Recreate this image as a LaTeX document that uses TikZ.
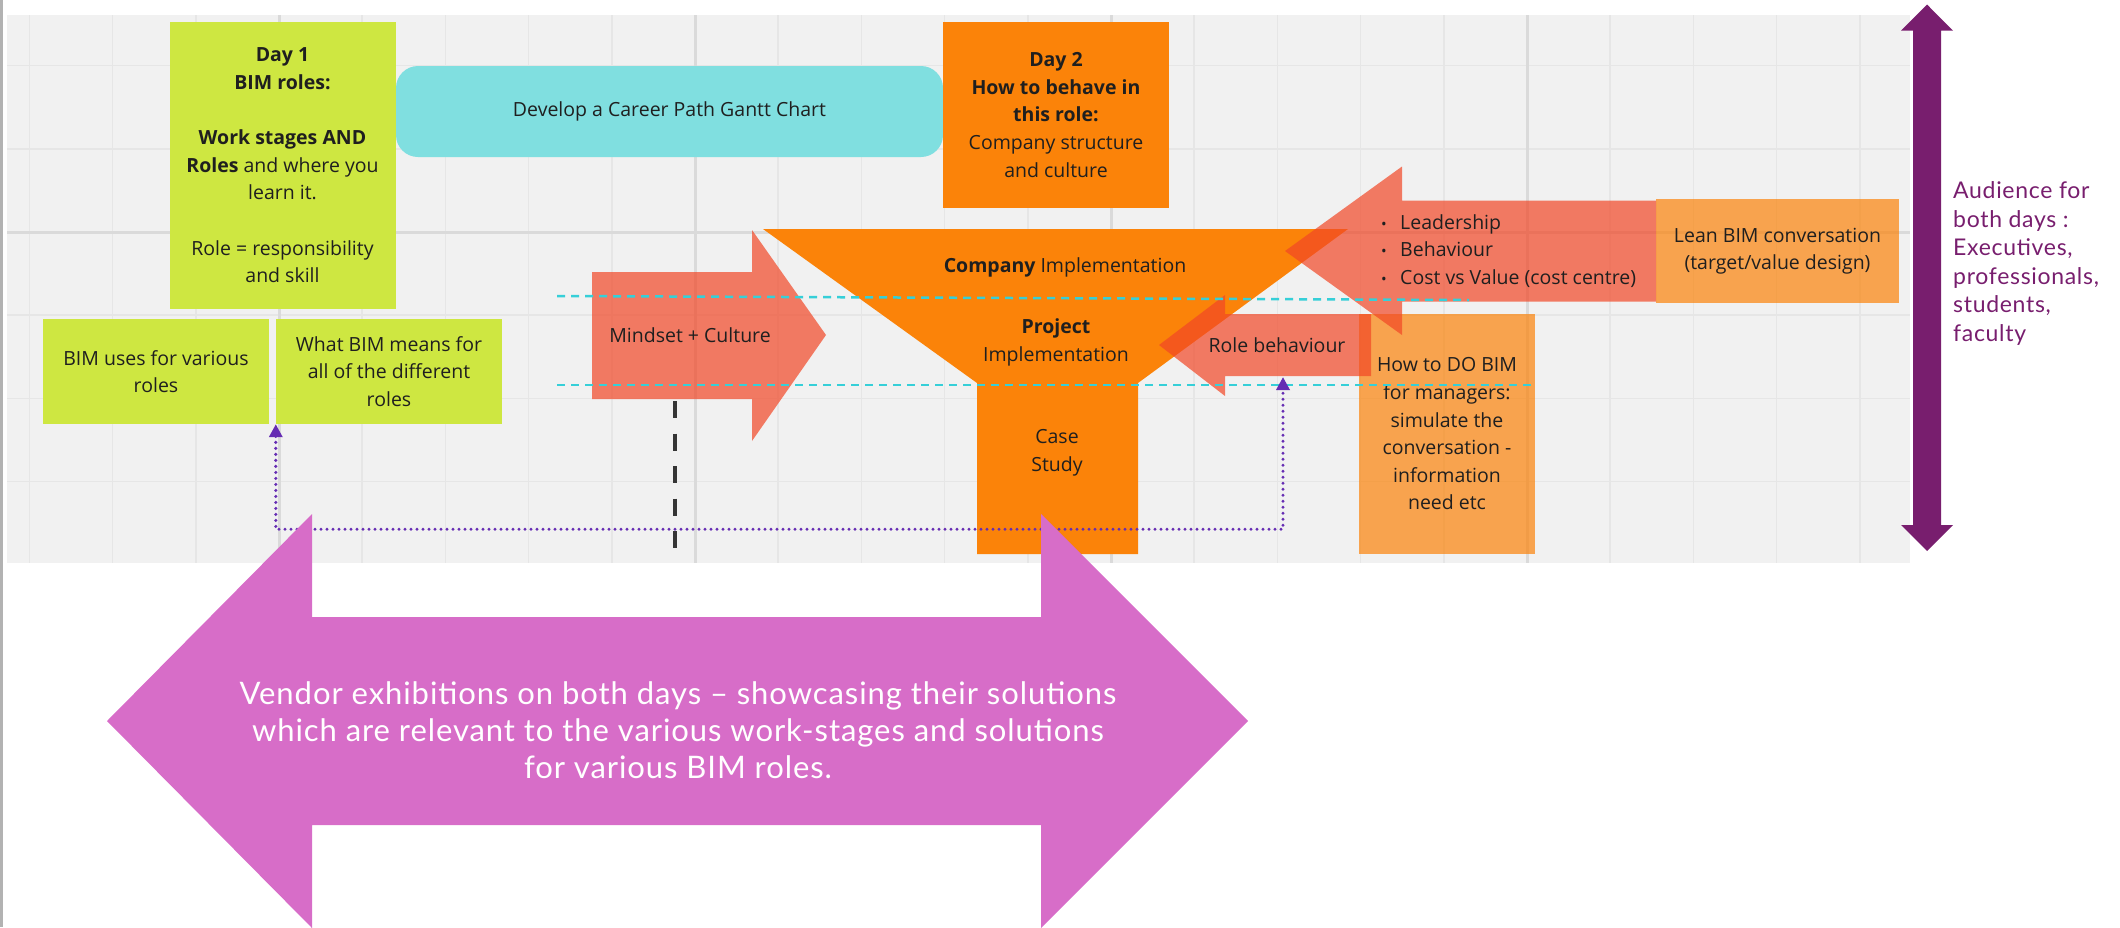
\documentclass[tikz,border=0pt]{standalone}
\usepackage{fontspec}
\setmainfont{Open Sans}
\newfontfamily\latofont[LetterSpace=3]{Lato}
\usetikzlibrary{arrows.meta, positioning}

\definecolor{boardgray}{HTML}{F1F1F1}
\definecolor{gridminor}{HTML}{E6E6E6}
\definecolor{gridmajor}{HTML}{DADADA}
\definecolor{limecard}{HTML}{CEE741}
\definecolor{ganttcyan}{HTML}{80DFE0}
\definecolor{mirorange}{HTML}{FB8309}
\definecolor{mirored}{HTML}{F24726}
\definecolor{guidecyan}{HTML}{36CFD8}
\definecolor{linkviolet}{HTML}{652CB3}
\definecolor{audpurple}{HTML}{781E6E}
\definecolor{vendorpink}{HTML}{D76DC8}
\definecolor{ink}{HTML}{1F1F1F}

\newcommand\boxfont{\fontsize{19.5}{27.6}\selectfont}
\newcommand\topicdot{\makebox[19pt][l]{\fontsize{15}{15}\selectfont\textbullet}}

\tikzset{
  inktext/.style={text=ink, font=\boxfont, align=center, inner sep=0pt},
  card/.style={inktext, fill=limecard, minimum width=226pt},
  daybox/.style={inktext, fill=mirorange, minimum width=226pt},
  softbox/.style={inktext, fill=mirorange, fill opacity=0.7, text opacity=1},
  redarrow/.style={fill=mirored, fill opacity=0.7},
  guide/.style={guidecyan, line width=2.5pt, dash pattern=on 8pt off 6pt},
  link/.style={linkviolet, line width=3.4pt, line cap=round, dash pattern=on 0pt off 6pt,
    {Triangle[length=13pt,width=13pt]}-{Triangle[length=13pt,width=13pt]}}
}

\begin{document}
\begin{tikzpicture}[x=1pt, y=-1pt]
  \useasboundingbox (0,0) rectangle (2120,927);
  % board and grid
  \fill[boardgray] (7,15) rectangle (1910,563);
  \foreach \gx in {0,...,22}
    \draw[gridminor, line width=1.5pt] (29.4+83.2*\gx,15) -- (29.4+83.2*\gx,563);
  \foreach \gy in {0,...,5}
    \draw[gridminor, line width=1.5pt] (7,65.6+83.2*\gy) -- (1910,65.6+83.2*\gy);
  \foreach \gx in {279,695,1111,1527}
    \draw[gridmajor, line width=3pt] (\gx,15) -- (\gx,563);
  \draw[gridmajor, line width=3pt] (7,232) -- (1910,232);
  \draw[black!30, line width=2.5pt] (1.3,0) -- (1.3,927);

  % day 1
  \node[card, minimum height=287pt] (day1) at (282.5,165.5)
    {\textbf{Day 1}\\\textbf{BIM roles:}\\[27.6pt]\textbf{Work stages AND}\\\textbf{Roles} and where you\\learn it.\\[27.6pt]Role = responsibility\\and skill};
  \node[card, minimum height=105pt] (bimuses) at (156,371.5) {BIM uses for various\\roles};
  \node[card, minimum height=105pt] (whatbim) at (389,371.5) {What BIM means for\\all of the different\\roles};
  \node[inktext, fill=ganttcyan, rounded corners=22pt, minimum width=547pt, minimum height=91pt] (gantt) at (669.5,111.5)
    {Develop a Career Path Gantt Chart};

  % day 2
  \node[daybox, minimum height=186pt] (day2) at (1056,115)
    {\textbf{Day 2}\\\textbf{How to behave in}\\\textbf{this role:}\\Company structure\\and culture};
  \fill[mirorange] (763,229) -- (1348,229) -- (1138,383) -- (1138,554) -- (977,554) -- (977,383) -- cycle;
  \node[inktext] (company) at (1065,267) {\textbf{Company} Implementation};
  \node[inktext] (project) at (1056,342.5) {\textbf{Project}\\Implementation};
  \node[inktext] (casestudy) at (1057,453) {Case\\Study};

  \node[softbox, minimum width=176pt, minimum height=240pt] (howto) at (1447,434)
    {How to DO BIM\\for managers:\\simulate the\\conversation -\\information\\need etc};
  \node[softbox, minimum width=243pt, minimum height=104pt] (lean) at (1777.5,251)
    {Lean BIM conversation\\(target/value design)};

  % arrows
  \fill[redarrow] (592,272) -- (752,272) -- (752,230) -- (826,335) -- (752,441) -- (752,399) -- (592,399) -- cycle;
  \node[inktext] (mindset) at (690,335) {Mindset + Culture};
  \fill[redarrow] (1656,200.5) -- (1402,200.5) -- (1402,166.5) -- (1285,251) -- (1402,335) -- (1402,301.5) -- (1656,301.5) -- cycle;
  \node[inktext, align=left, anchor=west] (topics) at (1381,251)
    {\topicdot Leadership\\\topicdot Behaviour\\\topicdot Cost vs Value (cost centre)};
  \fill[redarrow] (1371,314) -- (1225,314) -- (1225,295) -- (1159,345) -- (1225,396) -- (1225,376) -- (1371,376) -- cycle;
  \node[inktext] (rolebeh) at (1277,345) {Role behaviour};
  \coordinate (rolefoot) at (1283,377);

  % guides
  \draw[guide] (557,296) -- (1469,300);
  \draw[guide] (557,385) -- (1535,385);
  \draw[ink!90, line width=4.5pt, dash pattern=on 17pt off 15.5pt] (675,401) -- (675,550);
  \draw[link] (whatbim.south west) -- ++(0,105) -| (rolefoot);

  % audience
  \fill[audpurple] (1913,30.7) -- (1901,30.7) -- (1927,4.5) -- (1953,30.7) -- (1941,30.7)
    -- (1941,525) -- (1953,525) -- (1927,551) -- (1901,525) -- (1913,525) -- cycle;
  \node[text=audpurple, font=\latofont\fontsize{23}{28.6}\selectfont, align=left, anchor=west, inner sep=0pt] (audience) at (1953,263.5)
    {Audience for\\both days :\\Executives,\\professionals,\\students,\\faculty};

  % vendors
  \fill[vendorpink] (107,721) -- (312,514) -- (312,617) -- (1041,617) -- (1041,514) -- (1248,721)
    -- (1041,928) -- (1041,825) -- (312,825) -- (312,928) -- cycle;
  \node[text=white, font=\latofont\fontsize{31}{37}\selectfont, align=center, inner sep=0pt] (vendors) at (678,730)
    {Vendor exhibitions on both days – showcasing their solutions\\which are relevant to the various work-stages and solutions\\for various BIM roles.};
\end{tikzpicture}
\end{document}
